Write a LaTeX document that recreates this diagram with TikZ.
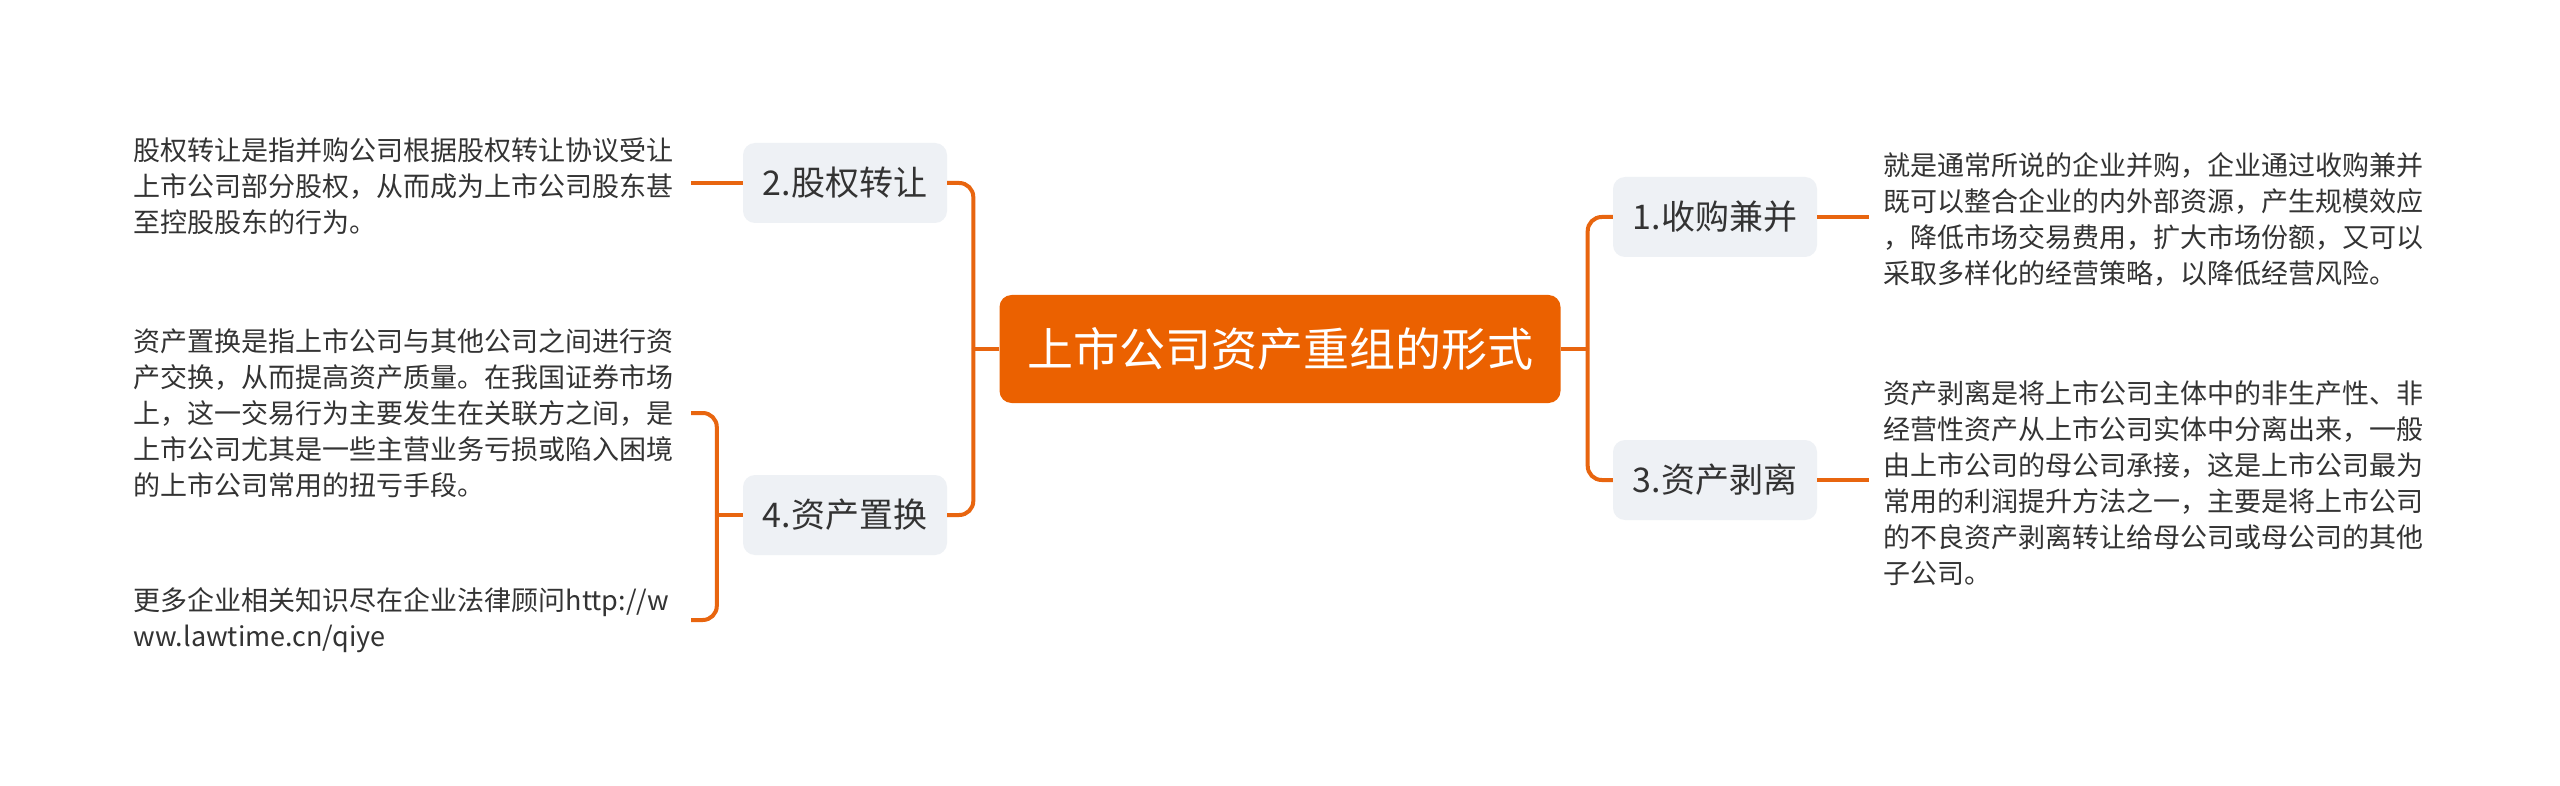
\documentclass[tikz,border=0pt]{standalone}
\usepackage{fontspec}
\setmainfont{Noto Sans CJK SC}
\usetikzlibrary{calc}
\definecolor{rootorange}{HTML}{EB6100}
\definecolor{lineorange}{HTML}{E8650F}
\definecolor{branchgray}{HTML}{EEF1F5}
\definecolor{textgray}{HTML}{333333}
\tikzset{
  rootbox/.style={fill=rootorange, rounded corners=12pt, minimum width=561pt, minimum height=108pt, inner sep=0pt, text=white, font=\fontsize{46}{50}\selectfont},
  branchbox/.style={fill=branchgray, rounded corners=12pt, minimum width=204pt, minimum height=80pt, inner sep=0pt, text=textgray, font=\fontsize{34}{40}\selectfont},
  leaftext/.style={align=left, text width=543pt, inner xsep=14pt, inner ysep=2pt, text=textgray, font=\fontsize{27}{36}\selectfont},
  link/.style={draw=lineorange, line width=4pt, rounded corners=14pt}
}
\begin{document}
\begin{tikzpicture}[x=1pt,y=-1pt]
    \useasboundingbox (0,0) rectangle (2560,786);
    \fill[white] (0,0) rectangle (2560,786);

    %root
    \node[rootbox] (root) at (1280,349) {上市公司资产重组的形式};

    %branches
    \node[branchbox] (b1) at (1715,217) {1.收购兼并};
    \node[branchbox] (b2) at (845,183) {2.股权转让};
    \node[branchbox] (b3) at (1715,480) {3.资产剥离};
    \node[branchbox] (b4) at (845,515) {4.资产置换};

    %leaves
    \node[leaftext, anchor=west] (l1) at (1869,219) {就是通常所说的企业并购，企业通过收购兼并\\既可以整合企业的内外部资源，产生规模效应\\，降低市场交易费用，扩大市场份额，又可以\\采取多样化的经营策略，以降低经营风险。};
    \node[leaftext, anchor=east] (l2) at (691,186) {股权转让是指并购公司根据股权转让协议受让\\上市公司部分股权，从而成为上市公司股东甚\\至控股股东的行为。};
    \node[leaftext, anchor=west] (l3) at (1869,483) {资产剥离是将上市公司主体中的非生产性、非\\经营性资产从上市公司实体中分离出来，一般\\由上市公司的母公司承接，这是上市公司最为\\常用的利润提升方法之一，主要是将上市公司\\的不良资产剥离转让给母公司或母公司的其他\\子公司。};
    \node[leaftext, anchor=east] (l4a) at (691,413) {资产置换是指上市公司与其他公司之间进行资\\产交换，从而提高资产质量。在我国证券市场\\上，这一交易行为主要发生在关联方之间，是\\上市公司尤其是一些主营业务亏损或陷入困境\\的上市公司常用的扭亏手段。};
    \node[leaftext, anchor=east] (l4b) at (691,620) {更多企业相关知识尽在企业法律顾问http://w\\ww.lawtime.cn/qiye};

    %links
    \coordinate (rj) at ($(root.east)+(27,0)$);
    \coordinate (lj) at ($(root.west)+(-26,0)$);
    \coordinate (bj) at ($(b4.west)+(-26,0)$);
    \draw[link] (root.east) -- (rj);
    \draw[link] (rj) |- (b1.west);
    \draw[link] (rj) |- (b3.west);
    \draw[link] (root.west) -- (lj);
    \draw[link] (lj) |- (b2.east);
    \draw[link] (lj) |- (b4.east);
    \draw[link] (b1.east) -- (b1.east -| l1.west);
    \draw[link] (b3.east) -- (b3.east -| l3.west);
    \draw[link] (b2.west) -- (b2.west -| l2.east);
    \draw[link] (b4.west) -- (bj);
    \draw[link] (bj) |- (l4a.east);
    \draw[link] (bj) |- (l4b.east);

\end{tikzpicture}
\end{document}
